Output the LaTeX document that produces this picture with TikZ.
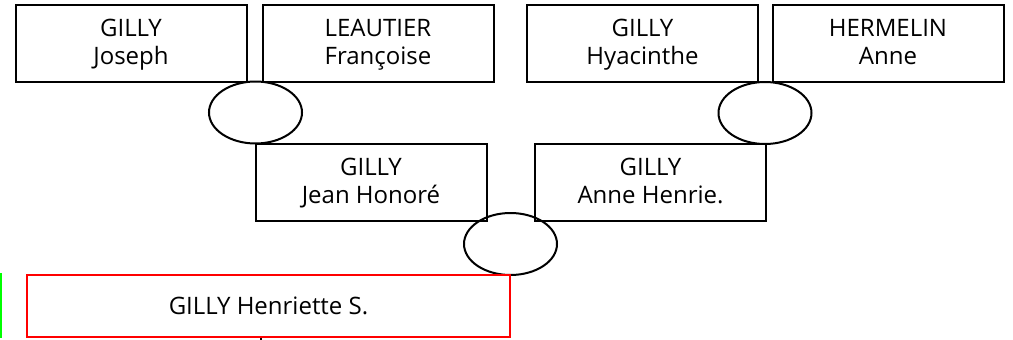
\documentclass[tikz,border=0pt]{standalone}
\usepackage{fontspec}
\setmainfont{Open Sans}
\usetikzlibrary{shapes.geometric}
\definecolor{selgreen}{RGB}{0,255,0}
\definecolor{selred}{RGB}{255,0,0}
\newcommand{\twolines}[2]{\rule{0pt}{24pt}#1\\#2\rule[-10.1pt]{0pt}{10.1pt}}
\tikzset{
  person/.style={draw=black, line width=2pt, rectangle, minimum width=231pt, minimum height=77pt, inner sep=0pt, align=center, font=\fontsize{24}{27.5}\selectfont},
  union/.style={draw=black, line width=2pt, ellipse, minimum width=93pt, minimum height=62pt, inner sep=0pt},
  focus/.style={draw=selred, line width=2.5pt, rectangle, minimum width=483pt, minimum height=62pt, inner sep=0pt, font=\fontsize{24}{27.5}\selectfont},
  link/.style={draw=black, line width=2pt}
}
\begin{document}
\begin{tikzpicture}[x=1pt,y=-1pt]
\useasboundingbox (0,0) rectangle (1013,340);
\node[person] (jo) at (131,43.5) {\twolines{GILLY}{Joseph}};
\node[person] (fr) at (378,43.5) {\twolines{LEAUTIER}{Françoise}};
\node[person] (hy) at (642.5,43.5) {\twolines{GILLY}{Hyacinthe}};
\node[person] (an) at (888,43.5) {\twolines{HERMELIN}{Anne}};
\node[union] (u1) at (255.5,112.5) {};
\node[union] (u2) at (765,113) {};
\node[person] (jh) at (371,182.5) {\twolines{GILLY}{Jean Honoré}};
\node[person] (ah) at (650.5,182.5) {\twolines{GILLY}{Anne Henrie.}};
\node[union] (u3) at (510.5,244) {};
\node[focus] (hs) at (268.5,306) {GILLY Henriette S.};
\coordinate (down) at (261,341);
\draw[link] (hs.south -| down) -- (down);
\fill[selgreen] (0,273) rectangle (2,338);
\end{tikzpicture}
\end{document}
